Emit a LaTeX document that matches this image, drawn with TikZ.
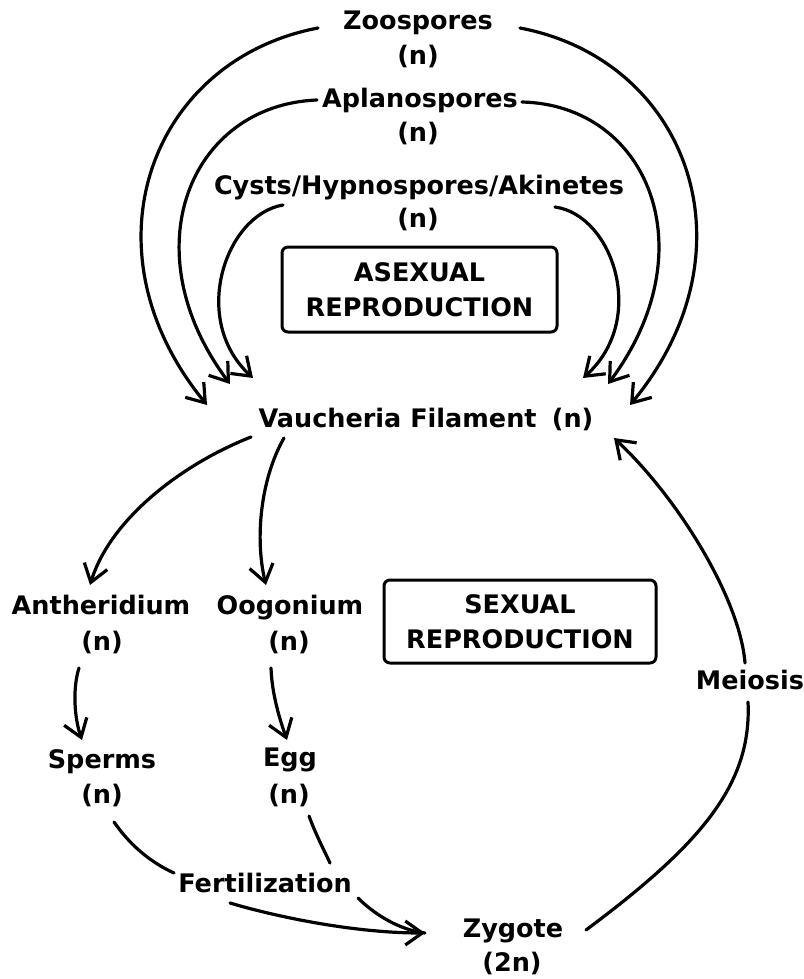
\documentclass[tikz,border=0pt]{standalone}
\usepackage{fontspec}
\setmainfont{DejaVu Sans}
\usetikzlibrary{arrows.meta}
\begin{document}
\begin{tikzpicture}[x=1pt,y=-1pt,
  lbl/.style={font=\bfseries\fontsize{25.5}{30}\selectfont,inner sep=0pt,anchor=base},
  boxed/.style={draw,line width=3pt,rounded corners=6pt,align=center,
    font=\bfseries\fontsize{25.5}{35}\selectfont,inner sep=0pt},
  conn/.style={line width=3.2pt,line cap=round},
  arr/.style={conn,-{Straight Barb[length=17pt,width=24pt]}}]
\useasboundingbox (0,0) rectangle (803,979);
\fill[white] (0,0) rectangle (803,979);

% asexual part
\node[lbl] (zoo)  at (418,30)  {Zoospores};
\node[lbl] (zoon) at (418,65)  {(n)};
\node[lbl] (apl)  at (420,107) {Aplanospores};
\node[lbl] (apln) at (418,142) {(n)};
\node[lbl] (cys)  at (419,194) {Cysts/Hypnospores/Akinetes};
\node[lbl] (cysn) at (418,227) {(n)};
\node[boxed,minimum width=275pt,minimum height=85pt] (asex) at (419.5,289.5) {ASEXUAL\\REPRODUCTION};
\node[lbl] (vf) at (426,427) {Vaucheria Filament\hspace{0.6em}(n)};

% sexual part
\node[lbl] (anth)  at (101,614) {Antheridium};
\node[lbl] (anthn) at (102,650) {(n)};
\node[lbl] (oog)   at (290,614) {Oogonium};
\node[lbl] (oogn)  at (289,650) {(n)};
\node[boxed,minimum width=272pt,minimum height=83pt] (sex) at (520,621.5) {SEXUAL\\REPRODUCTION};
\node[lbl] (meio)  at (750,689) {Meiosis};
\node[lbl] (sperm)  at (102,768) {Sperms};
\node[lbl] (spermn) at (102,803) {(n)};
\node[lbl] (egg)    at (290,766) {Egg};
\node[lbl] (eggn)   at (289,803) {(n)};
\node[lbl] (fert)   at (265,892) {Fertilization};
\node[lbl] (zyg)    at (513,937) {Zygote};
\node[lbl] (zygn)   at (512,971) {(2n)};

% asexual arcs
\draw[arr] ([shift={(-100,-2)}]zoo.base) .. controls (150,60) and (80,250) .. ([shift={(-219,-22)}]vf.base);
\draw[arr] ([shift={(102,-2)}]zoo.base) .. controls (688,60) and (758,250) .. ([shift={(204,-22)}]vf.base);
\draw[arr] ([shift={(-103,-7)}]apl.base) .. controls (190,105) and (130,250) .. ([shift={(-196,-43)}]vf.base);
\draw[arr] ([shift={(102,-5)}]apl.base) .. controls (648,105) and (708,250) .. ([shift={(182,-43)}]vf.base);
\draw[arr] ([shift={(-136,11)}]cys.base) .. controls (225,215) and (190,320) .. ([shift={(-173,-49)}]vf.base);
\draw[arr] ([shift={(136,13)}]cys.base) .. controls (613,215) and (648,320) .. ([shift={(157,-49)}]vf.base);

% sexual connectors
\draw[arr] ([shift={(-175,10)}]vf.base) .. controls (180,465) and (110,520) .. ([shift={(-11,-29)}]anth.base);
\draw[arr] ([shift={(-142,11)}]vf.base) .. controls (260,480) and (255,540) .. ([shift={(-24,-29)}]oog.base);
\draw[arr] ([shift={(-23,18)}]anthn.base) .. controls (72,690) and (75,720) .. ([shift={(-20,-28)}]sperm.base);
\draw[arr] ([shift={(-18,18)}]oogn.base) .. controls (272,695) and (280,720) .. ([shift={(-3,-26)}]egg.base);
\draw[conn] ([shift={(12,19)}]spermn.base) .. controls (130,845) and (150,862) .. ([shift={(-91,-19)}]fert.base);
\draw[conn] ([shift={(20,13)}]eggn.base) .. controls (316,835) and (324,850) .. ([shift={(65,-29)}]fert.base);
\coordinate (ztip) at ([shift={(-88,-4)}]zyg.base);
\draw[conn] ([shift={(93,6)}]fert.base) .. controls (375,915) and (400,930) .. (ztip);
\draw[arr] ([shift={(-35,11)}]fert.base) .. controls (270,915) and (350,933) .. (ztip);
\draw[conn] ([shift={(73,-7)}]zyg.base) .. controls (700,845) and (752,785) .. ([shift={(-2,13)}]meio.base);
\draw[arr] ([shift={(-5,-26)}]meio.base) .. controls (740,600) and (680,500) .. ([shift={(188,11)}]vf.base);
\end{tikzpicture}
\end{document}
